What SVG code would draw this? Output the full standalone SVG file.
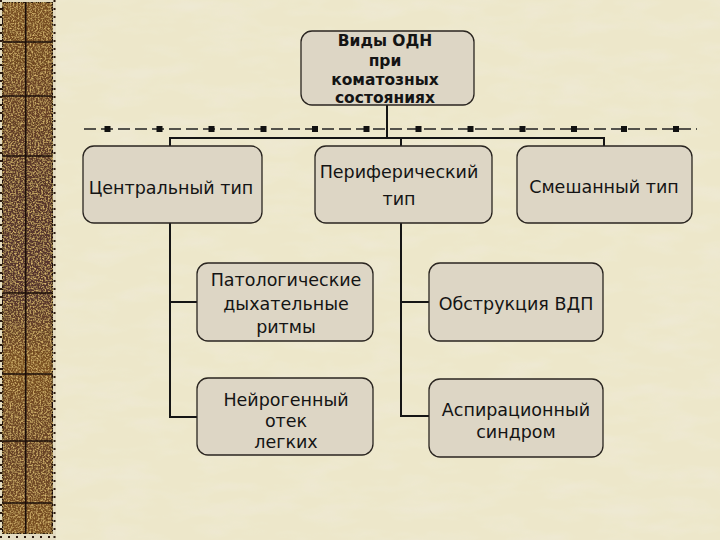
<svg xmlns="http://www.w3.org/2000/svg" width="720" height="540" viewBox="0 0 720 540">
  <defs>
    <linearGradient id="stripGrad" x1="0" y1="0" x2="0" y2="1">
      <stop offset="0" stop-color="#7a5020"/>
      <stop offset="0.18" stop-color="#6a4326"/>
      <stop offset="0.35" stop-color="#58362c"/>
      <stop offset="0.55" stop-color="#56352e"/>
      <stop offset="0.68" stop-color="#7c5222"/>
      <stop offset="0.85" stop-color="#684228"/>
      <stop offset="1" stop-color="#7c5222"/>
    </linearGradient>
    <filter id="grain" x="0" y="0" width="100%" height="100%">
      <feTurbulence type="fractalNoise" baseFrequency="0.6" numOctaves="2" seed="4" result="n"/>
      <feColorMatrix in="n" type="matrix" values="0 0 0 0 0.7  0 0 0 0 0.48  0 0 0 0 0.16  0 0 0 -2.6 1.45" result="g"/>
      <feComposite in="g" in2="SourceGraphic" operator="in" result="gi"/>
      <feMerge><feMergeNode in="SourceGraphic"/><feMergeNode in="gi"/></feMerge>
    </filter>
    <filter id="paper" x="0" y="0" width="100%" height="100%">
      <feTurbulence type="fractalNoise" baseFrequency="0.02 0.06" numOctaves="3" seed="7" result="n"/>
      <feColorMatrix in="n" type="matrix" values="0 0 0 0 0.86  0 0 0 0 0.83  0 0 0 0 0.7  0 0 0 -1.2 0.7" result="g"/>
      <feComposite in="g" in2="SourceGraphic" operator="in" result="gi"/>
      <feMerge><feMergeNode in="SourceGraphic"/><feMergeNode in="gi"/></feMerge>
    </filter>
    <style>
      .box { fill: #ddd6c5; stroke: #2a2520; stroke-width: 1.3; }
      .t { font-family: "DejaVu Sans", Verdana, sans-serif; font-size: 17.5px; fill: #141414; text-anchor: middle; }
      .tb { font-family: "DejaVu Sans", Verdana, sans-serif; font-size: 15.5px; font-weight: bold; fill: #141414; text-anchor: middle; }
      .ln { stroke: #151515; stroke-width: 2; fill: none; }
      .dash { stroke: #222; stroke-width: 1.3; stroke-dasharray: 12 5; fill: none; }
      .sq { fill: #111; }
      .sep { stroke: #1c0f0a; stroke-width: 1.6; }
    </style>
  </defs>

  <!-- background -->
  <rect x="0" y="0" width="720" height="540" fill="#ede7ca" filter="url(#paper)"/>

  <!-- decorative strip -->
  <g id="strip">
    <rect x="0" y="0" width="56" height="540" fill="#e4dcc2"/>
    <rect x="2.5" y="2" width="50" height="532" fill="url(#stripGrad)" filter="url(#grain)" stroke="#1c0f0a" stroke-width="1.6"/>
    <line class="sep" x1="25.7" y1="2" x2="25.7" y2="534"/>
    <line class="sep" x1="2.5" y1="42" x2="52.5" y2="42"/>
    <line class="sep" x1="2.5" y1="96" x2="52.5" y2="96"/>
    <line class="sep" x1="2.5" y1="156" x2="52.5" y2="156"/>
    <line class="sep" x1="2.5" y1="293" x2="52.5" y2="293"/>
    <line class="sep" x1="2.5" y1="374" x2="52.5" y2="374"/>
    <line class="sep" x1="2.5" y1="441" x2="52.5" y2="441"/>
    <line class="sep" x1="2.5" y1="503" x2="52.5" y2="503"/>
    <line x1="1" y1="0" x2="1" y2="540" stroke="#2a1a10" stroke-width="2" stroke-dasharray="2 6"/>
    <line x1="54.5" y1="0" x2="54.5" y2="540" stroke="#2a1a10" stroke-width="2" stroke-dasharray="2 6"/>
    <line x1="0" y1="537" x2="56" y2="537" stroke="#2a1a10" stroke-width="2" stroke-dasharray="2 6"/>
  </g>

  <!-- dashed decorative line -->
  <g id="divider">
    <line class="dash" x1="84" y1="129" x2="697" y2="129"/>
    <rect class="sq" x="104.5" y="126" width="6" height="6"/>
    <rect class="sq" x="156.5" y="126" width="6" height="6"/>
    <rect class="sq" x="208.5" y="126" width="6" height="6"/>
    <rect class="sq" x="260.5" y="126" width="6" height="6"/>
    <rect class="sq" x="312" y="126" width="6" height="6"/>
    <rect class="sq" x="363.5" y="126" width="6" height="6"/>
    <rect class="sq" x="415.5" y="126" width="6" height="6"/>
    <rect class="sq" x="467.5" y="126" width="6" height="6"/>
    <rect class="sq" x="519.5" y="126" width="6" height="6"/>
    <rect class="sq" x="571" y="126" width="6" height="6"/>
    <rect class="sq" x="621" y="126" width="6" height="6"/>
    <rect class="sq" x="673" y="126" width="6" height="6"/>
  </g>

  <!-- connectors -->
  <g id="connectors">
    <line class="ln" x1="387" y1="105" x2="387" y2="138"/>
    <line class="ln" x1="170" y1="138" x2="604" y2="138"/>
    <line class="ln" x1="170" y1="137" x2="170" y2="146"/>
    <line class="ln" x1="401" y1="137" x2="401" y2="146"/>
    <line class="ln" x1="604" y1="137" x2="604" y2="146"/>
    <polyline class="ln" points="170,223 170,417 197,417"/>
    <line class="ln" x1="170" y1="302" x2="197" y2="302"/>
    <polyline class="ln" points="401,223 401,416 429,416"/>
    <line class="ln" x1="401" y1="302" x2="429" y2="302"/>
  </g>

  <g id="root">
    <rect class="box" x="301" y="31" width="173" height="74" rx="11"/>
    <text class="tb" x="385" y="46">Виды ОДН</text>
    <text class="tb" x="385" y="65.5">при</text>
    <text class="tb" x="385" y="85">коматозных</text>
    <text class="tb" x="385" y="103">состояниях</text>
  </g>

  <g id="central">
    <rect class="box" x="83" y="146" width="179" height="77" rx="11"/>
    <text class="t" x="171" y="194">Центральный тип</text>
  </g>

  <g id="peripheral">
    <rect class="box" x="315" y="146" width="177" height="77" rx="11"/>
    <text class="t" x="399" y="178">Периферический</text>
    <text class="t" x="399" y="205">тип</text>
  </g>

  <g id="mixed">
    <rect class="box" x="517" y="146" width="175" height="77" rx="11"/>
    <text class="t" x="604" y="193">Смешанный тип</text>
  </g>

  <g id="pathological">
    <rect class="box" x="197" y="263" width="176" height="78" rx="11"/>
    <text class="t" x="286" y="286">Патологические</text>
    <text class="t" x="286" y="310">дыхательные</text>
    <text class="t" x="286" y="333">ритмы</text>
  </g>

  <g id="neurogenic">
    <rect class="box" x="197" y="378" width="176" height="77" rx="11"/>
    <text class="t" x="286" y="406">Нейрогенный</text>
    <text class="t" x="286" y="427">отек</text>
    <text class="t" x="286" y="448">легких</text>
  </g>

  <g id="obstruction">
    <rect class="box" x="429" y="263" width="174" height="78" rx="11"/>
    <text class="t" x="516" y="310">Обструкция ВДП</text>
  </g>

  <g id="aspiration">
    <rect class="box" x="429" y="379" width="174" height="78" rx="11"/>
    <text class="t" x="516" y="416">Аспирационный</text>
    <text class="t" x="516" y="438">синдром</text>
  </g>
</svg>
